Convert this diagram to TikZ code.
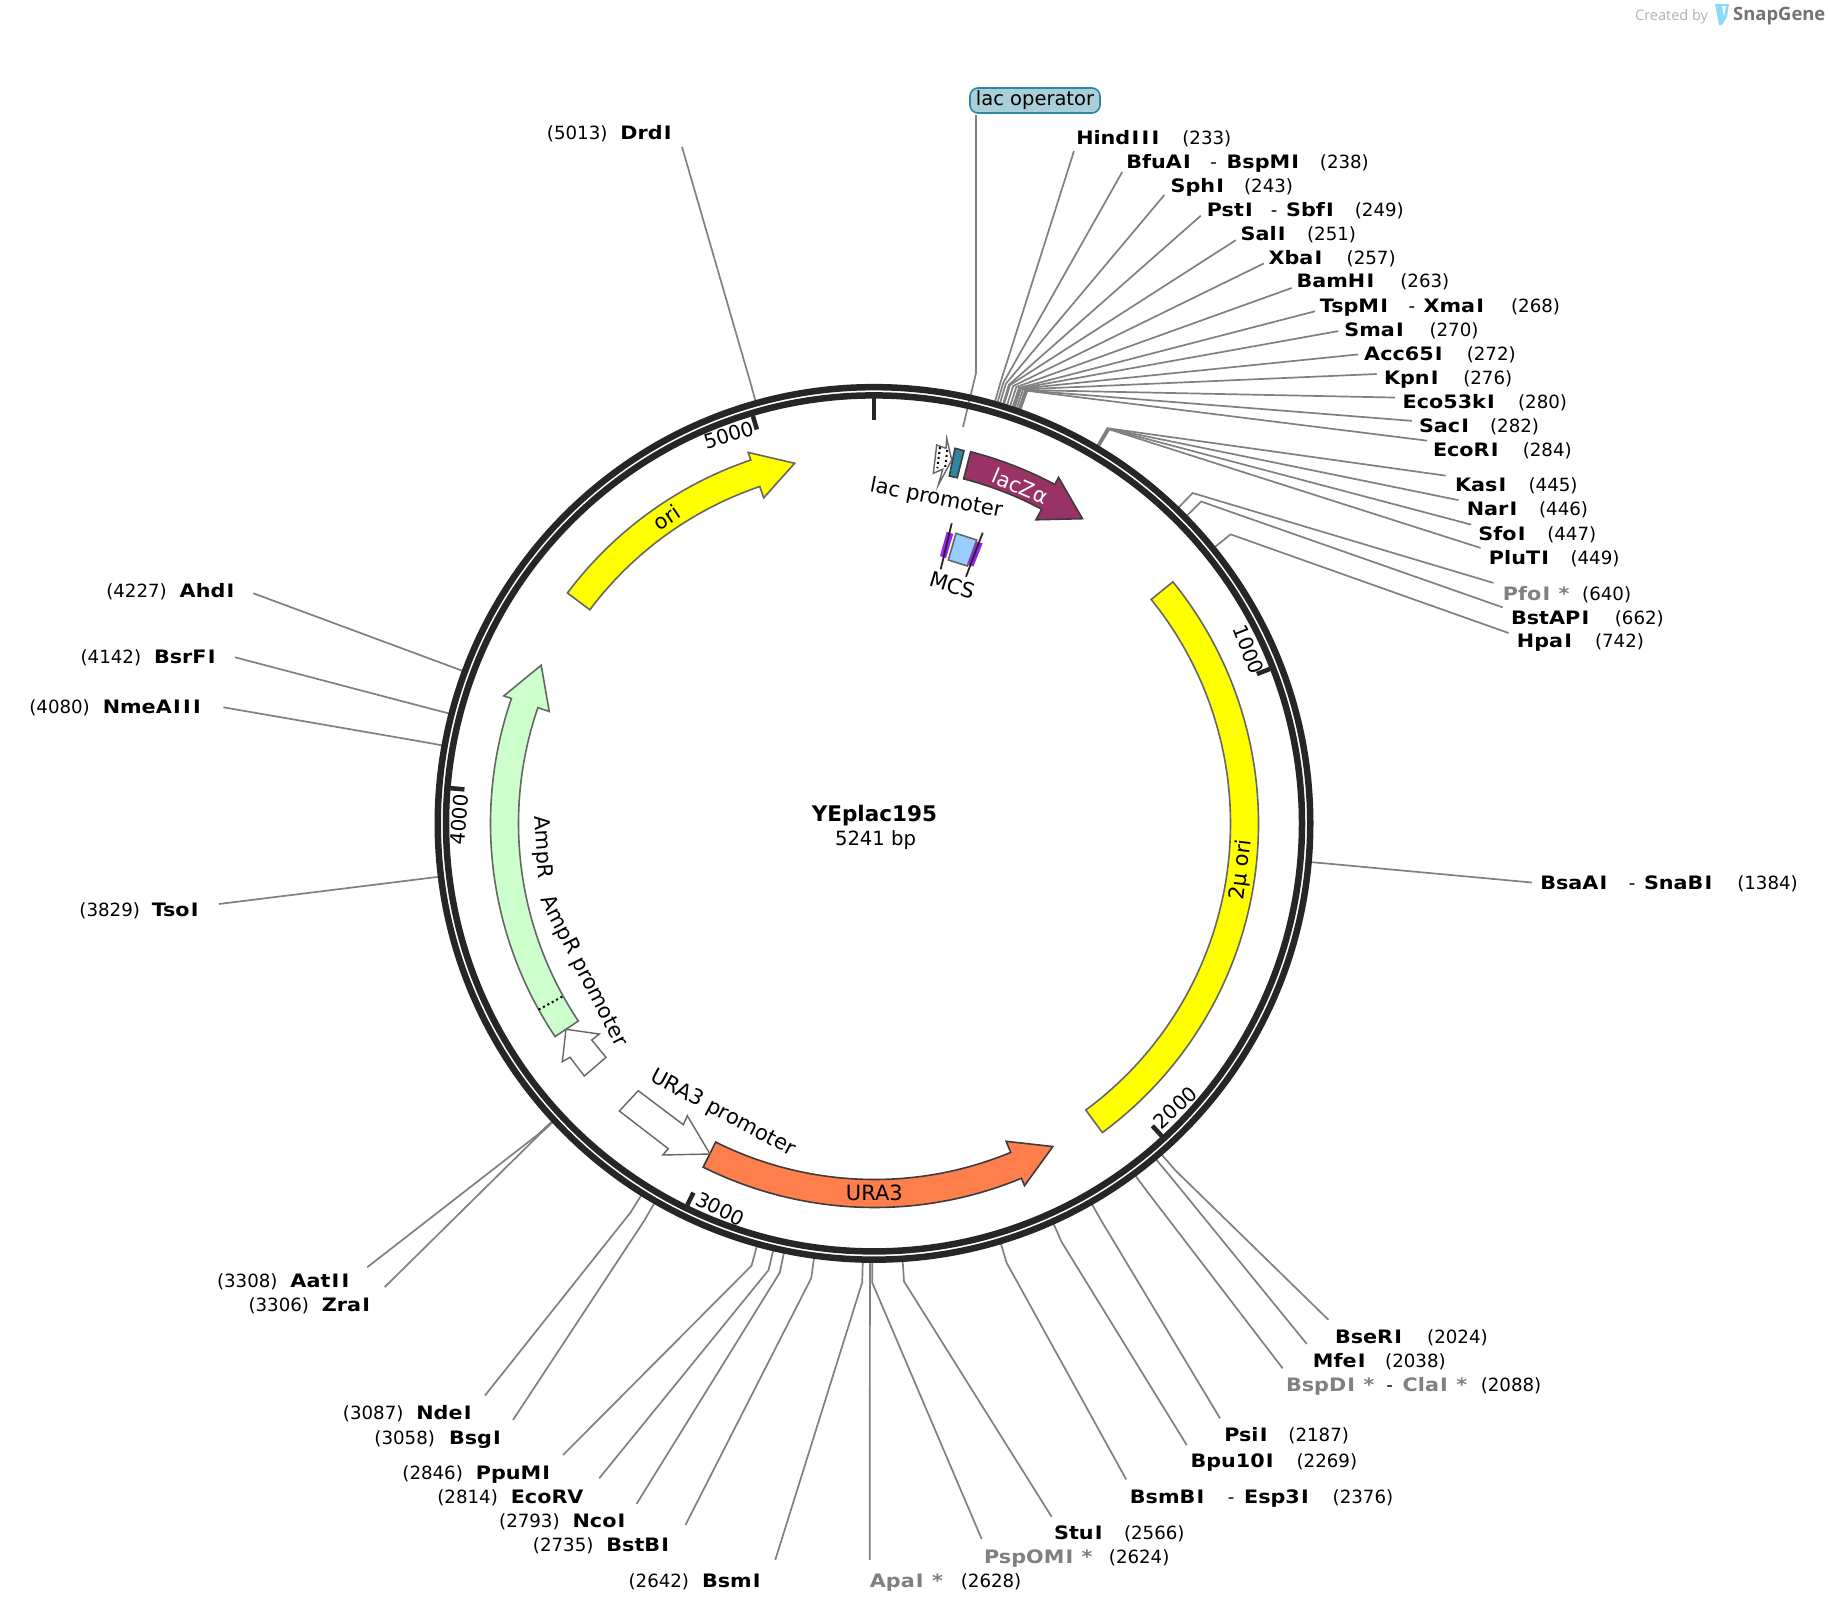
\documentclass[tikz,border=0pt]{standalone}
\usepackage{fontspec}
\setmainfont{DejaVu Sans}
\newfontfamily\enzf{DejaVu Sans}[BoldFont={DejaVu Sans Bold},BoldFeatures={FakeStretch=1.12}]
\newfontfamily\logof{Open Sans}
\newcommand\Iw{\kern.065em I\kern.065em}
\definecolor{ringc}{HTML}{262626}
\definecolor{linec}{HTML}{808080}
\definecolor{ggray}{HTML}{808080}
\definecolor{edgec}{HTML}{666666}
\definecolor{ylw}{HTML}{FFFF00}
\definecolor{lacz}{HTML}{993366}
\definecolor{ura}{HTML}{FF7F4C}
\definecolor{amp}{HTML}{CCFFCC}
\definecolor{teal1}{HTML}{2E86A0}
\definecolor{opfill}{HTML}{A9CFD9}
\definecolor{mcsb}{HTML}{99CCFF}
\definecolor{purp}{HTML}{9922EE}
\tikzset{
 enzlbl/.style={inner sep=0pt,anchor=base west,font=\fontsize{18.5}{20}\selectfont\enzf\bfseries},
 numlbl/.style={inner sep=0pt,anchor=base west,font=\fontsize{18.2}{20}\selectfont},
 featlbl/.style={inner sep=0pt,anchor=center,font=\fontsize{21}{24}\selectfont},
 ticklbl/.style={inner sep=0pt,anchor=center,font=\fontsize{20}{22}\selectfont},
 cutline/.style={draw=linec,line width=1.7pt},
 ringline/.style={draw=ringc},
 tickline/.style={draw=ringc,line width=4.5pt},
 feat/.style={draw=edgec,line width=1.6pt,line join=miter},
 darkfeat/.style={draw=ringc!90,line width=1.6pt,line join=miter},
 dotline/.style={black,line width=2pt,dash pattern=on 2pt off 3pt},
}
% id, bp, end x, end y, line y, name x, name, number x, number
\newcommand\enzsite[9]{%
 \pgfmathsetmacro\sa{90-#2/5241*360}%
 \coordinate (#1-r) at ([shift={(\sa:435pt)}]749.7,706.3);
 \coordinate (#1-e) at ([shift={(\sa:459pt)}]749.7,706.3);
 \coordinate (#1-t) at (#3,#4);
 \draw[cutline] (#1-r) -- (#1-e) -- (#1-t);
 \node[enzlbl] (#1-n) at (#6,#5+5.8) {#7};
 \node[numlbl] (#1-b) at (#8,#5+5.8) {#9};
}
\newcommand\enzextra[5]{% id, dash x, second name x, y, second name
 \node[numlbl] (#1-d) at (#2,#4+5.8) {-};
 \node[enzlbl] (#1-m) at (#3,#4+5.8) {#5};
}
% a1 neck tip : arrow along the band
\newcommand\arrowband[4]{%
 \path[#1] ({90-(#2)}:384pt) arc[start angle={90-(#2)},end angle={90-(#3)},radius=384pt]
  -- ({90-(#3)}:392pt) -- ({90-(#4)}:369pt) -- ({90-(#3)}:344pt) -- ({90-(#3)}:356pt)
  arc[start angle={90-(#3)},end angle={90-(#2)},radius=356pt] -- cycle;
}
\begin{document}
\begin{tikzpicture}[x=1pt,y=-1pt]
\useasboundingbox (0,0) rectangle (1828,1614);
\fill[white] (0,0) rectangle (1828,1614);
%
\begin{scope}[x=1.16582pt,y=-1.16582pt]
\enzsite{hind}{233}{921.2}{129.6}{118}{923}{Hind\Iw\Iw\Iw}{1014}{(233)}
\enzsite{bfua}{238}{962.6}{147.5}{138.5}{966}{BfuA\Iw}{1132}{(238)}
\enzextra{bfua}{1038}{1052}{138.5}{BspM\Iw}
\enzsite{sphi}{243}{998.7}{167.3}{159}{1004}{Sph\Iw}{1067}{(243)}
\enzsite{psti}{249}{1030}{185}{180}{1035}{Pst\Iw}{1162}{(249)}
\enzextra{psti}{1090}{1103}{180}{Sbf\Iw}
\enzsite{sali}{251}{1060}{206}{200.5}{1064}{Sal\Iw}{1121}{(251)}
\enzsite{xbai}{257}{1084}{226}{221}{1088}{Xba\Iw}{1155}{(257)}
\enzsite{bamh}{263}{1108}{247}{241}{1112}{BamH\Iw}{1201}{(263)}
\enzsite{tspm}{268}{1128}{267}{262}{1132}{TspM\Iw}{1296}{(268)}
\enzextra{tspm}{1208}{1221}{262}{Xma\Iw}
\enzsite{smai}{270}{1148}{284}{283}{1153}{Sma\Iw}{1226}{(270)}
\enzsite{acc6}{272}{1165}{304}{303}{1170}{Acc65\Iw}{1258}{(272)}
\enzsite{kpni}{276}{1180.9}{320.8}{324}{1187}{Kpn\Iw}{1255}{(276)}
\enzsite{eco5}{280}{1196.6}{341}{344.5}{1203}{Eco53k\Iw}{1302}{(280)}
\enzsite{saci}{282}{1211}{361}{365}{1217}{Sac\Iw}{1278}{(282)}
\enzsite{ecor}{284}{1224}{378}{385.5}{1229}{EcoR\Iw}{1306}{(284)}
\enzsite{kasi}{445}{1240}{408}{416}{1248}{Kas\Iw}{1311}{(445)}
\enzsite{nari}{446}{1251}{429}{436.5}{1258}{Nar\Iw}{1320}{(446)}
\enzsite{sfoi}{447}{1262}{450}{457.5}{1268}{Sfo\Iw}{1327}{(447)}
\enzsite{plut}{449}{1270}{470}{478}{1277}{PluT\Iw}{1347}{(449)}
\enzsite{pfoi}{640}{1281}{500}{509}{1289}{\color{ggray}Pfo\Iw\ *}{1357}{(640)}
\enzsite{bsta}{662}{1289}{521}{530}{1296}{BstAP\Iw}{1385}{(662)}
\enzsite{hpai}{742}{1294}{543}{550}{1301}{Hpa\Iw}{1368}{(742)}
\enzsite{bsaa}{1384}{1314}{757}{757.5}{1321}{BsaA\Iw}{1490}{(1384)}
\enzextra{bsaa}{1397}{1410}{757.5}{SnaB\Iw}
\enzsite{bser}{2024}{1139.4}{1132}{1147}{1145}{BseR\Iw}{1224}{(2024)}
\enzsite{mfei}{2038}{1120.9}{1152.8}{1167.5}{1126}{Mfe\Iw}{1188}{(2038)}
\enzsite{bspd}{2088}{1100.2}{1173.7}{1188}{1103}{\color{ggray}BspD\Iw\ *}{1270}{(2088)}
\enzextra{bspd}{1189}{1203}{1188}{\color{ggray}Cla\Iw\ *}
\enzsite{psii}{2187}{1046.5}{1216.6}{1231}{1050}{Psi\Iw}{1105}{(2187)}
\enzsite{bpu1}{2269}{1017.9}{1239.5}{1253}{1021}{Bpu10\Iw}{1112}{(2269)}
\enzsite{bsmb}{2376}{966}{1269}{1284}{969}{BsmB\Iw}{1143}{(2376)}
\enzextra{bsmb}{1053}{1067}{1284}{Esp3\Iw}
\enzsite{stui}{2566}{902}{1301}{1315}{904}{Stu\Iw}{964}{(2566)}
\enzsite{pspo}{2624}{842}{1320}{1335}{844}{\color{ggray}PspOM\Iw\ *}{951}{(2624)}
\enzsite{apai}{2628}{746}{1338}{1356}{746}{\color{ggray}Apa\Iw\ *}{824}{(2628)}
\enzsite{bsmi}{2642}{665}{1338}{1356}{602}{Bsm\Iw}{539}{(2642)}
\enzsite{bstb}{2735}{588}{1308}{1325}{520}{BstB\Iw}{457}{(2735)}
\enzsite{ncoi}{2793}{546}{1290}{1304}{491}{Nco\Iw}{428}{(2793)}
\enzsite{ecov}{2814}{514}{1268}{1284}{438}{EcoRV}{375}{(2814)}
\enzsite{ppum}{2846}{483}{1248}{1263}{408}{PpuM\Iw}{345}{(2846)}
\enzsite{bsgi}{3058}{440}{1218}{1233}{385}{Bsg\Iw}{321}{(3058)}
\enzsite{ndei}{3087}{416}{1197}{1212}{357}{Nde\Iw}{294}{(3087)}
\enzsite{zrai}{3306}{330}{1104}{1119}{276}{Zra\Iw}{213}{(3306)}
\enzsite{aati}{3308}{315}{1087}{1098.5}{249}{Aat\Iw\Iw}{186}{(3308)}
\enzsite{tsoi}{3829}{187.9}{775.4}{780}{130}{Tso\Iw}{68}{(3829)}
\enzsite{nmea}{4080}{191.6}{606.7}{606}{88}{NmeA\Iw\Iw\Iw}{25}{(4080)}
\enzsite{bsrf}{4142}{201.6}{563.8}{563}{132}{BsrF\Iw}{69}{(4142)}
\enzsite{ahdi}{4227}{217.3}{508.9}{507}{154}{Ahd\Iw}{91}{(4227)}
\enzsite{drdi}{5013}{585}{126}{114}{532}{Drd\Iw}{469}{(5013)}
\end{scope}
% lac operator label and its leader
\node[draw=teal1,line width=1.6pt,fill=opfill,rounded corners=8pt,minimum width=130pt,minimum height=25pt,inner sep=0pt,font=\fontsize{19.5}{22}\selectfont] (opbox) at (1035,100.5) {lac operator};
\coordinate (op-top) at (976,115);
\coordinate (op-el) at (976,373);
\coordinate (op-end) at (963,427);
\draw[cutline] (op-top) -- (op-el) -- (op-end);
% plasmid ring
\begin{scope}[shift={(874,823.4)},x=1pt,y=1pt]
\draw[ringline,line width=6.5pt] (0,0) circle[radius=436.25pt];
\draw[ringline,line width=6.5pt] (0,0) circle[radius=428pt];
\draw[tickline] (90:425pt) -- (90:403pt);
\foreach \t in {1000,2000,3000,4000,5000}{
 \pgfmathsetmacro\ta{90-\t/5241*360}
 \draw[tickline] (\ta:425pt) -- (\ta:411pt);
}
\end{scope}
% plasmid features
\begin{scope}[shift={(874.5,823.5)},x=1pt,y=1pt]
\path[feat,fill=ylw] (39:384pt) arc[start angle=39,end angle=-53.6,radius=384pt] -- (-53.6:356pt) arc[start angle=-53.6,end angle=39,radius=356pt] -- cycle;
\arrowband{feat,fill=ylw}{-53.1}{-18.8}{-12.5}
\arrowband{darkfeat,fill=lacz}{14.5}{28}{34.3}
\arrowband{darkfeat,fill=ura}{206.5}{157.5}{151.1}
\arrowband{feat,fill=amp}{236.3}{289}{295.4}
\draw[dotline] ({90-241}:384pt) -- ({90-241}:357pt);
\end{scope}
\begin{scope}[x=1pt,y=-1pt]
% lac operator feature
\path[darkfeat,fill=teal1] (955,448.3) -- (964,450.7) -- (957.3,477.7) -- (949.3,476) -- cycle;
% lac promoter
\path[draw=edgec,line width=1.4pt,fill=white,line join=miter] (936.7,445) -- (946,448.3) -- (946.7,438.3) -- (951.7,460) -- (938.3,485) -- (942.7,469.3) -- (933.3,473.3) -- cycle;
\draw[dotline] (940,447) -- (937.3,468.3);
\draw[dotline] (947.3,450) -- (945,468.3);
% MCS
\path[draw=edgec,line width=1.6pt,fill=mcsb] (956,533.3) -- (976.7,540) -- (967.3,566) -- (948.3,560) -- cycle;
\fill[purp] (946.7,531.7) -- (953.3,534) -- (946,558.3) -- (940,556) -- cycle;
\fill[purp] (976.7,541.7) -- (982.7,543.3) -- (973.3,566.7) -- (967.3,564.3) -- cycle;
\draw[ringc,line width=1.8pt] (951.7,523.3) -- (940.7,569.3);
\draw[ringc,line width=1.8pt] (982.7,532.7) -- (966,576.7);
% promoters
\path[draw=edgec,line width=1.4pt,fill=white,line join=miter] (566,1029.3) -- (599.3,1034) -- (591.7,1040) -- (606,1057.3) -- (584.3,1076) -- (570,1057.3) -- (562.3,1061.7) -- cycle;
\path[draw=edgec,line width=1.4pt,fill=white,line join=miter] (638.3,1090.7) -- (683.3,1124.7) -- (687.3,1115.7) -- (710,1154) -- (662.7,1155) -- (668.3,1148.7) -- (619.3,1111) -- cycle;
\end{scope}
% texts in reference-display units
\begin{scope}[x=1.16582pt,y=-1.16582pt]
\node[ticklbl,rotate=16.6] (t5000) at (625,373) {5000};
\node[ticklbl,rotate=-68.7] (t1000) at (1071,557) {1000};
\node[ticklbl,rotate=42.6] (t2000) at (1008,950) {2000};
\node[ticklbl,rotate=-26] (t3000) at (618,1037) {3000};
\node[ticklbl,rotate=85] (t4000) at (394,703) {4000};
\node[featlbl,rotate=34] (fori) at (572,444) {ori};
\node[featlbl,rotate=-23,text=white] (flac) at (875,417) {lacZα};
\node[featlbl,rotate=-11] (flacp) at (803,428) {lac promoter};
\node[featlbl,rotate=-17] (fmcs) at (817,502) {MCS};
\node[featlbl,rotate=83] (ftwo) at (1065,746) {2µ ori};
\node[featlbl] (fura) at (750,1023) {URA3};
\node[featlbl,rotate=-28] (furap) at (620,955) {URA3 promoter};
\node[featlbl,rotate=-63] (fampp) at (500,833) {AmpR promoter};
\node[featlbl,rotate=-86] (famp) at (465,727) {AmpR};
\node[inner sep=0pt,font=\fontsize{21.5}{24}\selectfont\bfseries] (pname) at (750,699.5) {YEplac195};
\node[inner sep=0pt,font=\fontsize{19.6}{22}\selectfont] (psize) at (751,721) {5241 bp};
\end{scope}
% SnapGene mark
\node[inner sep=0pt,anchor=west,text=black!30,font=\fontsize{14.5}{16}\selectfont\logof] (cby) at (1635,16.5) {Created by};
\fill[cyan!45!white] (1715,4) -- (1729,4) -- (1727,17) -- (1722,25) -- (1719,25) -- cycle;
\fill[white] (1722,6) -- (1726,6) -- (1724,16) -- cycle;
\node[inner sep=0pt,anchor=west,text=black!55,font=\fontsize{18.4}{22}\selectfont\logof\bfseries] (sg) at (1733,16.5) {SnapGene};
\end{tikzpicture}
\end{document}
